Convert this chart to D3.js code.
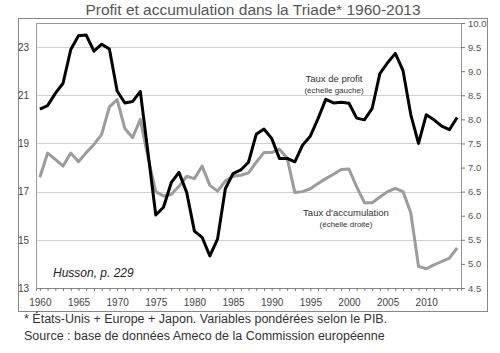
<!DOCTYPE html>
<html><head><meta charset="utf-8">
<script src="https://cdn.jsdelivr.net/npm/d3@7"></script>
<style>
html,body{margin:0;padding:0;background:#fff;}
svg{display:block;font-family:"Liberation Sans",Arial,sans-serif;}
</style></head>
<body><svg id="c" width="500" height="353"></svg>
<script>
const years = d3.range(1960, 2015);
const profitRate = [20.43,20.57,21.08,21.5,22.9,23.47,23.5,22.83,23.12,22.92,21.18,20.68,20.74,21.16,18.6,16.03,16.35,17.37,17.8,16.97,15.36,15.1,14.33,15.04,17.12,17.75,17.9,18.22,19.38,19.6,19.21,18.38,18.38,18.24,18.93,19.3,20.03,20.83,20.68,20.71,20.67,20.05,19.98,20.45,21.9,22.35,22.74,22.02,20.2,19.0,20.19,19.98,19.72,19.57,20.08];
const accumulationRate = [6.8,7.3,7.17,7.03,7.3,7.12,7.31,7.48,7.69,8.26,8.41,7.81,7.62,8.0,7.2,6.5,6.41,6.44,6.61,6.82,6.77,7.03,6.63,6.51,6.72,6.82,6.84,6.89,7.11,7.31,7.31,7.38,7.2,6.48,6.5,6.56,6.67,6.77,6.86,6.96,6.97,6.6,6.27,6.27,6.39,6.5,6.57,6.5,6.06,4.95,4.9,4.98,5.05,5.12,5.33];
const leftTicks = [13,15,17,19,21,23];
const rightTicks = d3.range(4.5, 10.01, 0.5);
const xLabelYears = [1960,1965,1970,1975,1980,1985,1990,1995,2000,2005,2010];
const title = "Profit et accumulation dans la Triade* 1960-2013";
const notes = ["* États-Unis + Europe + Japon. Variables pondérées selon le PIB.",
               "Source : base de données Ameco de la Commission européenne"];

const svg = d3.select("#c");
const L = 36, R = 461, T = 23, B = 288;

const x = d3.scalePoint().domain(years).range([L, R]).padding(0.5);
const yL = d3.scaleLinear().domain([13, 24]).range([B, T]);
const yR = d3.scaleLinear().domain([4.5, 10]).range([B, T]);

// title
svg.append("text").attr("x", 253).attr("y", 15).attr("text-anchor", "middle")
  .attr("font-size", 15.5).attr("fill", "#555").text(title);

// outer frame
svg.append("rect").attr("x", 18.5).attr("y", 18.5).attr("width", 469).attr("height", 293)
  .attr("fill", "none").attr("stroke", "#888").attr("stroke-width", 1);

// gridlines
svg.append("g").selectAll("line").data(leftTicks.filter(d => d > 13)).join("line")
  .attr("x1", L).attr("x2", R).attr("y1", d => Math.round(yL(d)) + 0.5).attr("y2", d => Math.round(yL(d)) + 0.5)
  .attr("stroke", "#d0d0d0").attr("stroke-width", 1);

// plot border
svg.append("rect").attr("x", L + 0.5).attr("y", T + 0.5).attr("width", R - L).attr("height", B - T)
  .attr("fill", "none").attr("stroke", "#999").attr("stroke-width", 1);

// left axis
const gl = svg.append("g").attr("transform", `translate(${L},0)`)
  .call(d3.axisLeft(yL).tickValues(leftTicks).tickSize(0).tickPadding(7).tickFormat(d3.format("d")));
gl.select(".domain").attr("stroke", "#999");
gl.selectAll("text").attr("font-size", 10).attr("fill", "#444").attr("font-family", "Liberation Sans, Arial, sans-serif");

// right axis
const gr = svg.append("g").attr("transform", `translate(${R},0)`)
  .call(d3.axisRight(yR).tickValues(rightTicks).tickSize(4).tickPadding(3).tickFormat(d3.format(".1f")));
gr.select(".domain").attr("stroke", "#999");
gr.selectAll("line").attr("stroke", "#777");
gr.selectAll("text").attr("font-size", 9.5).attr("fill", "#555").attr("font-family", "Liberation Sans, Arial, sans-serif");

// bottom axis minor ticks
const gm = svg.append("g").attr("transform", `translate(0,${B})`)
  .call(d3.axisBottom(x).tickValues(years).tickSize(3).tickFormat(""));
gm.select(".domain").attr("stroke", "#888");
gm.selectAll("line").attr("stroke", "#777");
const gx = svg.append("g").attr("transform", `translate(0,${B})`)
  .call(d3.axisBottom(x).tickValues(xLabelYears).tickSize(0).tickPadding(11));
gx.select(".domain").remove();
gx.selectAll("text").attr("font-size", 10).attr("fill", "#444").attr("font-family", "Liberation Sans, Arial, sans-serif");

// lines
const lineAcc = d3.line().x((d, i) => x(years[i])).y(d => yR(d));
const lineProf = d3.line().x((d, i) => x(years[i])).y(d => yL(d));
svg.append("path").datum(accumulationRate).attr("d", lineAcc)
  .attr("fill", "none").attr("stroke", "#9c9c9c").attr("stroke-width", 3).attr("stroke-linejoin", "round");
svg.append("path").datum(profitRate).attr("d", lineProf)
  .attr("fill", "none").attr("stroke", "#000").attr("stroke-width", 3).attr("stroke-linejoin", "round");

// annotations
function label(xc, y, t, fs){ svg.append("text").attr("x", xc).attr("y", y).attr("text-anchor", "middle")
  .attr("font-size", fs).attr("fill", "#333").text(t); }
label(334, 82, "Taux de profit", 9.5);
label(334, 93, "(échelle gauche)", 8);
label(346, 216, "Taux d'accumulation", 9.5);
label(346, 227, "(échelle droite)", 8);

svg.append("text").attr("x", 53).attr("y", 277).attr("font-size", 12).attr("font-style", "italic")
  .attr("fill", "#222").text("Husson, p. 229");

svg.append("text").attr("x", 24).attr("y", 323).attr("font-size", 12.5).attr("fill", "#333").text(notes[0]);
svg.append("text").attr("x", 24).attr("y", 340).attr("font-size", 12.5).attr("fill", "#333").text(notes[1]);
</script></body></html>
